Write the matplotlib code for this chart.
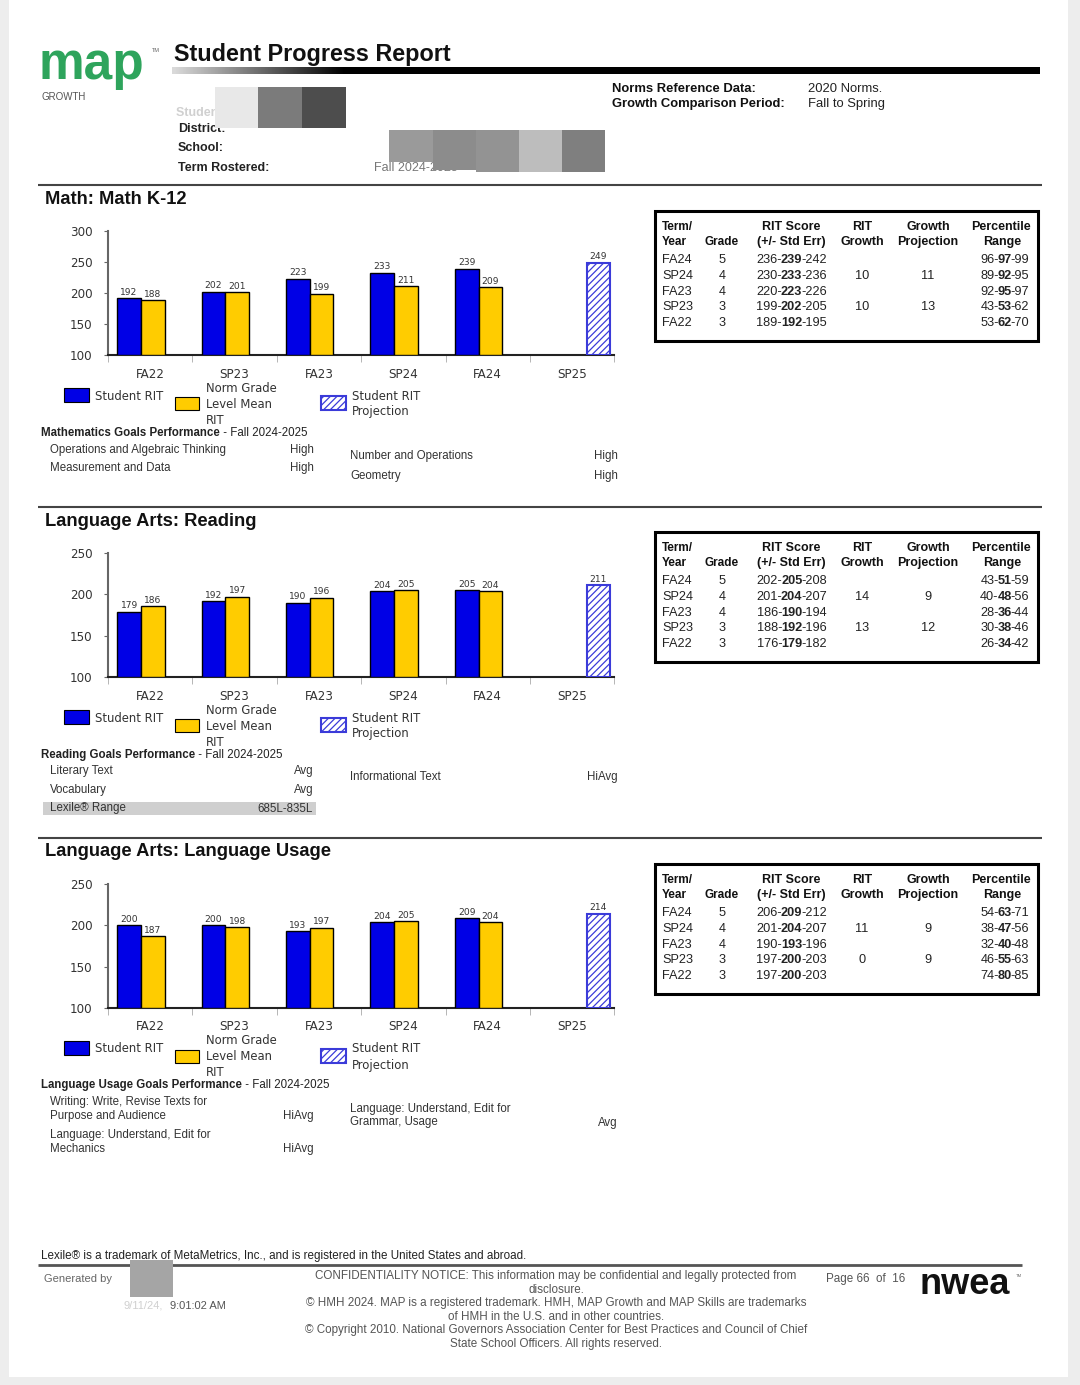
import numpy as np
import matplotlib
matplotlib.use("Agg")
import matplotlib.pyplot as plt
from matplotlib.patches import Rectangle

# ---------------- data ----------------
terms = ['FA22', 'SP23', 'FA23', 'SP24', 'FA24', 'SP25']

math_student = [192, 202, 223, 233, 239]
math_norm = [188, 201, 199, 211, 209]
math_proj = 249

read_student = [179, 192, 190, 204, 205]
read_norm = [186, 197, 196, 205, 204]
read_proj = 211

lang_student = [200, 200, 193, 204, 209]
lang_norm = [187, 198, 197, 205, 204]
lang_proj = 214

table_terms = ['FA24', 'SP24', 'FA23', 'SP23', 'FA22']
table_grades = ['5', '4', '4', '3', '3']

math_rit = [(236, 239, 242), (230, 233, 236), (220, 223, 226), (199, 202, 205), (189, 192, 195)]
math_growth = ['', '10', '', '10', '']
math_gproj = ['', '11', '', '13', '']
math_pct = [(96, 97, 99), (89, 92, 95), (92, 95, 97), (43, 53, 62), (53, 62, 70)]

read_rit = [(202, 205, 208), (201, 204, 207), (186, 190, 194), (188, 192, 196), (176, 179, 182)]
read_growth = ['', '14', '', '13', '']
read_gproj = ['', '9', '', '12', '']
read_pct = [(43, 51, 59), (40, 48, 56), (28, 36, 44), (30, 38, 46), (26, 34, 42)]

lang_rit = [(206, 209, 212), (201, 204, 207), (190, 193, 196), (197, 200, 203), (197, 200, 203)]
lang_growth = ['', '11', '', '0', '']
lang_gproj = ['', '9', '', '9', '']
lang_pct = [(54, 63, 71), (38, 47, 56), (32, 40, 48), (46, 55, 63), (74, 80, 85)]

math_goals_left = [('Operations and Algebraic Thinking', 'High'), ('Measurement and Data', 'High')]
math_goals_right = [('Number and Operations', 'High'), ('Geometry', 'High')]
read_goals_left = [('Literary Text', 'Avg'), ('Vocabulary', 'Avg')]
read_goals_right = [('Informational Text', 'HiAvg')]
lexile_range = '685L-835L'
lang_goals_left = [(['Writing: Write, Revise Texts for', 'Purpose and Audience'], 'HiAvg'),
                   (['Language: Understand, Edit for', 'Mechanics'], 'HiAvg')]
lang_goals_right = [(['Language: Understand, Edit for', 'Grammar, Usage'], 'Avg')]

# ---------------- figure ----------------
W, H = 1080, 1385
SANS = ['Liberation Sans', 'DejaVu Sans']
CH = ['DejaVu Sans']
plt.rcParams['hatch.linewidth'] = 0.9

fig = plt.figure(figsize=(W / 100, H / 100), dpi=100, facecolor='#ededed')
bg = fig.add_axes([0, 0, 1, 1])
bg.set_xlim(0, W)
bg.set_ylim(H, 0)
bg.axis('off')
bg.add_patch(Rectangle((9, 0), 1059, 1377, fc='white', ec='none', zorder=0))
renderer = fig.canvas.get_renderer()

BLUE = '#0000e6'
GOLD = '#ffcc00'
HBLUE = '#3b3bd9'
HATCH = '/////'


def txt(x, y, s, size=8, bold=False, color='#222', ha='left', family=SANS, **kw):
    return bg.text(x, y, s, fontsize=size, fontweight='bold' if bold else 'normal',
                   color=color, ha=ha, va='center', family=family, **kw)


def rich(x, y, parts, ha='left', size=9, color='#222', tight=0.0):
    ts = [txt(x, y, s, size=size, bold=b, color=color) for s, b in parts]
    ws = [t.get_window_extent(renderer).width - tight for t in ts]
    tot = sum(ws)
    start = x if ha == 'left' else (x - tot / 2 if ha == 'center' else x - tot)
    for t, w in zip(ts, ws):
        t.set_x(start)
        start += w


def hline(y, x0=38, x1=1042, lw=1.5, color='#444'):
    bg.plot([x0, x1], [y, y], color=color, lw=lw, solid_capstyle='butt')


# ---------------- header ----------------
bg.text(39, 79, 'map', fontsize=37, fontweight='bold', color='#2ea45c', family=SANS,
        ha='left', va='baseline')
txt(152, 50, 'TM', size=4, color='#666')
txt(42, 97, 'GROWTH', size=7, color='#555')
txt(174, 54, 'Student Progress Report', size=16.8, bold=True, color='#111')
grad = np.ones((1, 200, 4))
grad[..., :3] = 0
grad[0, :, 3] = np.concatenate([np.linspace(0.15, 1, 40), np.ones(160)])
bg.imshow(grad, extent=(172, 1040, 74.5, 68), aspect='auto', zorder=2, interpolation='bilinear')
bg.set_xlim(0, W)
bg.set_ylim(H, 0)

txt(176, 113, 'Student ID:', size=9, bold=True, color='#d0d0d0')
txt(178, 129, 'District:', size=9, bold=True)
txt(178, 148, 'School:', size=9, bold=True)
txt(178, 168, 'Term Rostered:', size=9, bold=True)
txt(374, 168, 'Fall 2024-2025', size=9, color='#777')
for x0, x1, c in [(215, 258, '#e8e8e8'), (258, 302, '#7b7b7b'), (302, 346, '#4d4d4d')]:
    bg.add_patch(Rectangle((x0, 87), x1 - x0, 41, fc=c, ec='none', zorder=3))
for x0, x1, c, h in [(389, 433, '#9a9a9a', 32), (433, 476, '#8c8c8c', 40), (476, 519, '#939393', 42),
                     (519, 562, '#bdbdbd', 42), (562, 605, '#7f7f7f', 42)]:
    bg.add_patch(Rectangle((x0, 130), x1 - x0, h, fc=c, ec='none', zorder=3))

txt(612, 89, 'Norms Reference Data:', size=9.4, bold=True, color='#111')
txt(612, 104, 'Growth Comparison Period:', size=9.4, bold=True, color='#111')
txt(808, 89, '2020 Norms.', size=9.4, color='#222')
txt(808, 104, 'Fall to Spring', size=9.4, color='#222')

LEG = 8.4
GS = 8.3


# ---------------- sections ----------------
def chart(line_y, title, student, norm, proj):
    hline(line_y)
    txt(45, line_y + 14, title, size=13.2, bold=True, color='#111')
    top, bottom = line_y + 46, line_y + 170
    ax = fig.add_axes([108 / W, 1 - bottom / H, 506.4 / W, (bottom - top) / H])
    ymax = 300 if max(student + [proj]) > 240 else 250
    ymin = 100
    x = np.arange(len(terms))
    n = len(student)
    b1 = ax.bar(x[:n] - 0.25, np.array(student) - ymin, bottom=ymin, width=0.28,
                color=BLUE, edgecolor='black', lw=1, zorder=3)
    b2 = ax.bar(x[:n] + 0.03, np.array(norm) - ymin, bottom=ymin, width=0.28,
                color=GOLD, edgecolor='black', lw=1, zorder=3)
    b3 = ax.bar([x[-1] + 0.31], [proj - ymin], bottom=ymin, width=0.28,
                color='white', edgecolor=HBLUE, hatch=HATCH, lw=1.5, zorder=3)
    for bars, vals in [(b1, student), (b2, norm), (b3, [proj])]:
        ax.bar_label(bars, labels=[str(v) for v in vals], padding=1, fontsize=6.6,
                     color='#333', family=CH)
    ax.set_xlim(-0.5, len(terms) - 0.5)
    ax.set_ylim(ymin, ymax)
    ax.set_yticks(np.arange(ymin, ymax + 1, 50))
    ax.set_xticks(x)
    ax.set_xticklabels(terms, family=CH, fontsize=8.6, color='#333')
    ax.set_xticks(np.arange(-0.5, len(terms)), minor=True)
    ax.tick_params(axis='x', which='major', length=0, pad=9)
    ax.tick_params(axis='x', which='minor', length=5, color='#aaa', direction='out')
    ax.tick_params(axis='y', length=3, color='#666', labelsize=8.6, labelcolor='#333', pad=8)
    for lab in ax.get_yticklabels():
        lab.set_family(CH)
    for s in ['top', 'right']:
        ax.spines[s].set_visible(False)
    ax.spines['left'].set_color('#666')
    ax.spines['left'].set_linewidth(1.5)
    ax.spines['bottom'].set_color('#222')
    ax.spines['bottom'].set_linewidth(1.5)
    ax.set_facecolor('none')

    # legend
    b = bottom + 41
    bg.add_patch(Rectangle((64, b - 8), 25, 14, fc=BLUE, ec='black', lw=0.8))
    txt(95, b, 'Student RIT', size=LEG, color='#333', family=CH)
    bg.add_patch(Rectangle((175, b + 1), 24, 13, fc=GOLD, ec='black', lw=0.8))
    for k, s in enumerate(['Norm Grade', 'Level Mean', 'RIT']):
        txt(206, b - 8 + 16 * k, s, size=LEG, color='#333', family=CH)
    bg.add_patch(Rectangle((321, b), 25, 14, fc='white', ec=HBLUE, lw=1.5, hatch=HATCH))
    txt(352, b, 'Student RIT', size=LEG, color='#333', family=CH)
    txt(352, b + 16, 'Projection', size=LEG, color='#333', family=CH)
    return bottom


def table(top, rit, growth, gproj, pct):
    bg.add_patch(Rectangle((655, top), 383, 130, fill=False, lw=2.2, ec='black', zorder=4))
    h1, h2 = top + 16, top + 31
    txt(662, h1, 'Term/', size=8.5, bold=True, color='#111')
    txt(662, h2, 'Year', size=8.5, bold=True, color='#111')
    txt(722, h2, 'Grade', size=8.5, bold=True, color='#111', ha='center')
    txt(791, h1, 'RIT Score', size=9, bold=True, color='#111', ha='center')
    txt(791, h2, '(+/- Std Err)', size=9, bold=True, color='#111', ha='center')
    txt(862, h1, 'RIT', size=9, bold=True, color='#111', ha='center')
    txt(862, h2, 'Growth', size=9, bold=True, color='#111', ha='center')
    txt(928, h1, 'Growth', size=9, bold=True, color='#111', ha='center')
    txt(928, h2, 'Projection', size=9, bold=True, color='#111', ha='center')
    txt(1001, h1, 'Percentile', size=9, bold=True, color='#111', ha='center')
    txt(1002, h2, 'Range', size=9, bold=True, color='#111', ha='center')
    for i in range(len(table_terms)):
        y = top + 49 + i * 15.8
        txt(662, y, table_terms[i], size=9.2, color='#222')
        txt(722, y, table_grades[i], size=9.2, color='#222', ha='center')
        lo, mid, hi = rit[i]
        rich(791, y, [(f'{lo}-', False), (str(mid), True), (f'-{hi}', False)], ha='center',
             size=9.2, tight=1.2)
        txt(862, y, growth[i], size=9.2, color='#222', ha='center')
        txt(928, y, gproj[i], size=9.2, color='#222', ha='center')
        plo, pmid, phi = pct[i]
        rich(1028, y, [(f'{plo}-', False), (str(pmid), True), (f'-{phi}', False)], ha='right',
             size=9.2, tight=1.2)


GC = '#333'

# Math
bm = chart(185, 'Math: Math K-12', math_student, math_norm, math_proj)
table(211, math_rit, math_growth, math_gproj, math_pct)
rich(41, bm + 78, [('Mathematics Goals Performance', True), (' - Fall 2024-2025', False)], size=GS, color='#222')
for (name, val), y in zip(math_goals_left, [bm + 95, bm + 113]):
    txt(50, y, name, size=GS, color=GC)
    txt(314, y, val, size=GS, color=GC, ha='right')
for (name, val), y in zip(math_goals_right, [bm + 101, bm + 121]):
    txt(350, y, name, size=GS, color=GC)
    txt(618, y, val, size=GS, color=GC, ha='right')

# Reading
br = chart(507, 'Language Arts: Reading', read_student, read_norm, read_proj)
table(532, read_rit, read_growth, read_gproj, read_pct)
rich(41, br + 78, [('Reading Goals Performance', True), (' - Fall 2024-2025', False)], size=GS, color='#222')
for (name, val), y in zip(read_goals_left, [br + 94, br + 113]):
    txt(50, y, name, size=GS, color=GC)
    txt(314, y, val, size=GS, color=GC, ha='right')
for (name, val), y in zip(read_goals_right, [br + 100]):
    txt(350, y, name, size=GS, color=GC)
    txt(618, y, val, size=GS, color=GC, ha='right')
bg.add_patch(Rectangle((43, br + 125), 273, 13, fc='#cfcfcf', ec='none'))
txt(50, br + 131.5, 'Lexile\u00ae Range', size=GS, color=GC)
txt(313, br + 131.5, lexile_range, size=GS, color=GC, ha='right')

# Language usage
bl = chart(838, 'Language Arts: Language Usage', lang_student, lang_norm, lang_proj)
table(864, lang_rit, lang_growth, lang_gproj, lang_pct)
rich(41, bl + 77, [('Language Usage Goals Performance', True), (' - Fall 2024-2025', False)], size=GS, color='#222')
for (lines, val), y in zip(lang_goals_left, [bl + 94, bl + 127]):
    txt(50, y, lines[0], size=GS, color=GC)
    txt(50, y + 14, lines[1], size=GS, color=GC)
    txt(314, y + 14, val, size=GS, color=GC, ha='right')
for (lines, val), y in zip(lang_goals_right, [bl + 101]):
    txt(350, y, lines[0], size=GS, color=GC)
    txt(350, y + 13, lines[1], size=GS, color=GC)
    txt(618, y + 14, val, size=GS, color=GC, ha='right')

# ---------------- footer ----------------
txt(41, 1256, 'Lexile\u00ae is a trademark of MetaMetrics, Inc., and is registered in the United States and abroad.',
    size=8.4, color='#222')
hline(1265, 38, 1022, lw=2, color='#555')
txt(44, 1279, 'Generated by', size=8, color='#666')
bg.add_patch(Rectangle((130, 1260), 43, 37, fc='#a5a5a5', ec='none', zorder=3))
txt(123, 1306, '9/11/24,', size=8, color='#d0d0d0')
txt(170, 1306, '9:01:02 AM', size=8, color='#555')
foot = ['CONFIDENTIALITY NOTICE: This information may be confidential and legally protected from',
        'disclosure.',
        '\u00a9 HMH 2024. MAP is a registered trademark. HMH, MAP Growth and MAP Skills are trademarks',
        'of HMH in the U.S. and in other countries.',
        '\u00a9 Copyright 2010. National Governors Association Center for Best Practices and Council of Chief',
        'State School Officers. All rights reserved.']
for k, s in enumerate(foot):
    txt(556, 1276 + 13.6 * k, s, size=8.4, color='#555', ha='center')
txt(826, 1279, 'Page 66  of  16', size=8.4, color='#555')
bg.text(919, 1294, 'nwea', fontsize=26, fontweight='bold', color='#111', family=SANS,
        ha='left', va='baseline')
txt(1016, 1276, 'TM', size=3, color='#666')

fig.savefig('out.png', dpi=100, facecolor=fig.get_facecolor())
